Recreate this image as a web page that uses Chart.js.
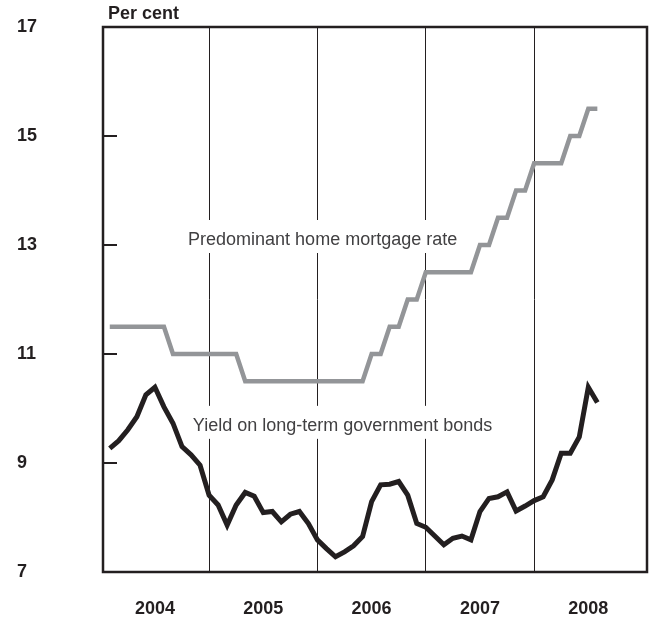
<!DOCTYPE html>
<html>
<head>
<meta charset="utf-8">
<script src="https://cdn.jsdelivr.net/npm/chart.js@4/dist/chart.umd.min.js"></script>
<style>
  body { margin: 0; background: #fff; }
  #wrap { width: 659px; height: 618px; }
</style>
</head>
<body>
<div id="wrap"><canvas id="chart"></canvas></div>
<script>
const years = ['2004', '2005', '2006', '2007', '2008'];
const monthNames = ['Jan', 'Feb', 'Mar', 'Apr', 'May', 'Jun', 'Jul', 'Aug', 'Sep', 'Oct', 'Nov', 'Dec'];

// monthly observations, Jan 2004 - Jul 2008 (end of month)
const bondYield = [
  9.27, 9.41, 9.61, 9.85, 10.25, 10.39, 10.03, 9.73, 9.30, 9.15, 8.96, 8.41,
  8.23, 7.86, 8.23, 8.46, 8.39, 8.09, 8.11, 7.92, 8.06, 8.11, 7.89, 7.59,
  7.43, 7.28, 7.37, 7.48, 7.65, 8.29, 8.60, 8.61, 8.66, 8.41, 7.89, 7.82,
  7.66, 7.50, 7.62, 7.66, 7.59, 8.11, 8.35, 8.38, 8.47, 8.12, 8.21, 8.31,
  8.38, 8.69, 9.18, 9.18, 9.48, 10.39, 10.11
];
const mortgageRate = [
  11.5, 11.5, 11.5, 11.5, 11.5, 11.5, 11.5, 11, 11, 11, 11, 11,
  11, 11, 11, 10.5, 10.5, 10.5, 10.5, 10.5, 10.5, 10.5, 10.5, 10.5,
  10.5, 10.5, 10.5, 10.5, 10.5, 11, 11, 11.5, 11.5, 12, 12, 12.5,
  12.5, 12.5, 12.5, 12.5, 12.5, 13, 13, 13.5, 13.5, 14, 14, 14.5,
  14.5, 14.5, 14.5, 15, 15, 15.5, 15.5
];
const yTicks = [7, 9, 11, 13, 15, 17];

const months = bondYield.map((v, i) => monthNames[i % 12] + ' ' + years[Math.floor(i / 12)]);

const notes = [
  { text: 'Predominant home mortgage rate', month: 9.67, value: 13.0 },
  { text: 'Yield on long-term government bonds', month: 10.2, value: 9.59 },
];

const INK = '#231f20';
const FONT = '"Liberation Sans", Arial, sans-serif';

const toPoints = (arr) => arr.map((v, i) => ({ x: i + 1, y: v }));

const framePlugin = {
  id: 'frame',
  beforeDatasetsDraw(chart) {
    const { ctx, chartArea: a, scales } = chart;
    ctx.save();
    ctx.font = '18px ' + FONT;
    notes.forEach((n) => {
      const x = scales.x.getPixelForValue(n.month);
      const y = scales.y.getPixelForValue(n.value);
      const w = ctx.measureText(n.text).width;
      ctx.fillStyle = '#fff';
      ctx.fillRect(x - 5, y - 25, w + 10, 33);
      ctx.fillStyle = '#414042';
      ctx.textBaseline = 'alphabetic';
      ctx.fillText(n.text, x, y);
    });
    ctx.restore();
  },
  afterDatasetsDraw(chart) {
    const { ctx, chartArea: a, scales } = chart;
    ctx.save();
    ctx.strokeStyle = INK;
    ctx.lineWidth = 2;
    yTicks.slice(1, -1).forEach((v) => {
      const y = Math.round(scales.y.getPixelForValue(v));
      ctx.beginPath();
      ctx.moveTo(a.left, y);
      ctx.lineTo(a.left + 14, y);
      ctx.stroke();
    });
    ctx.lineWidth = 2.5;
    ctx.strokeRect(a.left, a.top, a.right - a.left, a.bottom - a.top);
    ctx.fillStyle = INK;
    ctx.font = 'bold 18px ' + FONT;
    ctx.textBaseline = 'alphabetic';
    ctx.fillText('Per cent', a.left + 5, a.top - 8);
    ctx.restore();
  },
};

new Chart(document.getElementById('chart'), {
  type: 'line',
  data: {
    labels: months,
    datasets: [
      { label: 'Predominant home mortgage rate', data: toPoints(mortgageRate), borderColor: '#939598', borderWidth: 4.5, pointRadius: 0, tension: 0 },
      { label: 'Yield on long-term government bonds', data: toPoints(bondYield), borderColor: INK, borderWidth: 5, pointRadius: 0, tension: 0 },
    ],
  },
  options: {
    responsive: true,
    maintainAspectRatio: false,
    animation: false,
    layout: { padding: { left: 17, top: 27, right: 12, bottom: 0 } },
    plugins: { legend: { display: false }, tooltip: { enabled: false } },
    scales: {
      x: {
        type: 'linear',
        min: 0.25,
        max: 60.5,
        afterBuildTicks: (scale) => {
          scale.ticks = [6, 12, 18, 24, 30, 36, 42, 48, 54].map((v) => ({ value: v }));
        },
        afterFit: (scale) => { scale.height = 46; },
        grid: {
          drawTicks: false,
          lineWidth: 1,
          color: (c) => (c.tick && c.tick.value % 12 === 0 ? INK : 'rgba(0,0,0,0)'),
        },
        border: { display: false },
        ticks: {
          padding: 26,
          autoSkip: false,
          maxRotation: 0,
          color: INK,
          font: { family: FONT, size: 18, weight: 'bold' },
          callback: (v) => (v % 12 === 6 ? years[(v - 6) / 12] : ''),
        },
      },
      y: {
        min: 7,
        max: 17,
        afterBuildTicks: (scale) => {
          scale.ticks = yTicks.map((v) => ({ value: v }));
        },
        afterFit: (scale) => { scale.width = 86; },
        grid: { display: false },
        border: { display: false },
        ticks: {
          crossAlign: 'far',
          color: INK,
          font: { family: FONT, size: 18, weight: 'bold' },
        },
      },
    },
  },
  plugins: [framePlugin],
});
</script>
</body>
</html>
